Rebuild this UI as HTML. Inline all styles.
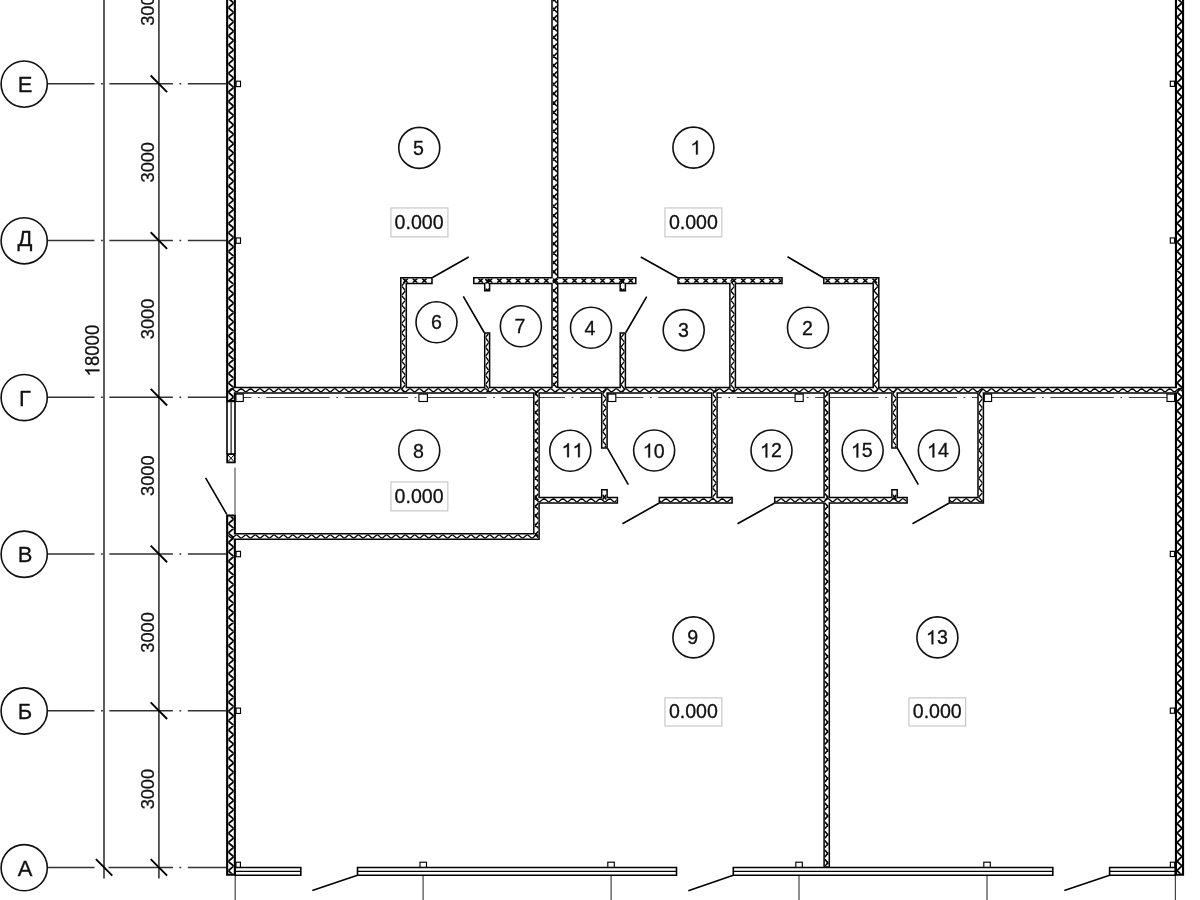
<!DOCTYPE html><html><head><meta charset="utf-8"><style>html,body{margin:0;padding:0;background:#fff;width:1200px;height:900px;overflow:hidden}svg{display:block;will-change:transform}</style></head><body>
<svg width="1200" height="900" viewBox="0 0 1200 900">
<rect x="0" y="0" width="1200" height="900" fill="#fff"/>
<path d="M47.5 83.80H94.2" stroke="#333" stroke-width="1.5"/>
<path d="M94.20 83.80H94.49M109.40 83.80H172.90M101.00 83.80H102.80M187.81 83.80H226.20M179.41 83.80H181.21" stroke="#333" stroke-width="1.50" fill="none"/>
<path d="M47.5 240.52H94.2" stroke="#333" stroke-width="1.5"/>
<path d="M94.20 240.52H94.49M109.40 240.52H172.90M101.00 240.52H102.80M187.81 240.52H226.20M179.41 240.52H181.21" stroke="#333" stroke-width="1.50" fill="none"/>
<path d="M47.5 397.24H94.2" stroke="#333" stroke-width="1.5"/>
<path d="M94.20 397.24H94.49M109.40 397.24H172.90M101.00 397.24H102.80M187.81 397.24H226.20M179.41 397.24H181.21" stroke="#333" stroke-width="1.50" fill="none"/>
<path d="M47.5 553.96H94.2" stroke="#333" stroke-width="1.5"/>
<path d="M94.20 553.96H94.49M109.40 553.96H172.90M101.00 553.96H102.80M187.81 553.96H226.20M179.41 553.96H181.21" stroke="#333" stroke-width="1.50" fill="none"/>
<path d="M47.5 710.68H94.2" stroke="#333" stroke-width="1.5"/>
<path d="M94.20 710.68H94.49M109.40 710.68H172.90M101.00 710.68H102.80M187.81 710.68H226.20M179.41 710.68H181.21" stroke="#333" stroke-width="1.50" fill="none"/>
<path d="M47.5 867.40H94.5M108.5 867.40H173" stroke="#333" stroke-width="1.5"/>
<path d="M187.81 867.40H226.20M179.41 867.40H181.21" stroke="#333" stroke-width="1.50" fill="none"/>
<path d="M235.80 397.50H251.31M266.22 397.50H329.72M257.82 397.50H259.62M344.63 397.50H408.13M336.23 397.50H338.03M423.04 397.50H486.54M414.64 397.50H416.44M501.45 397.50H564.95M493.05 397.50H494.85M579.86 397.50H643.36M571.46 397.50H573.26M658.27 397.50H721.77M649.87 397.50H651.67M736.68 397.50H800.18M728.28 397.50H730.08M815.09 397.50H878.59M806.69 397.50H808.49M893.50 397.50H957.00M885.10 397.50H886.90M971.91 397.50H1035.41M963.51 397.50H965.31M1050.32 397.50H1113.82M1041.92 397.50H1043.72M1128.73 397.50H1175.00M1120.33 397.50H1122.13" stroke="#444" stroke-width="1.00" fill="none"/>
<path d="M104.0 -2V878.4M158.9 -2V878.4" stroke="#404040" stroke-width="1.7" fill="none"/>
<path d="M150.70 75.50L167.10 92.10M150.70 232.22L167.10 248.82M150.70 388.94L167.10 405.54M150.70 545.66L167.10 562.26M150.70 702.38L167.10 718.98M150.70 859.10L167.10 875.70M95.90 859.10L112.30 875.70" stroke="#000" stroke-width="1.9" fill="none"/>
<g transform="translate(153.90 5.54) rotate(-90)"><text x="-20.24" y="0" transform="scale(1.0000 1.0600)" font-family='"Liberation Sans", sans-serif' font-size="18.20" fill="#111" stroke="#111" stroke-width="0.28">3</text><text x="-10.12" y="0" transform="scale(1.0000 1.0600)" font-family='"Liberation Sans", sans-serif' font-size="18.20" fill="#111" stroke="#111" stroke-width="0.28">0</text><text x="0.00" y="0" transform="scale(1.0000 1.0600)" font-family='"Liberation Sans", sans-serif' font-size="18.20" fill="#111" stroke="#111" stroke-width="0.28">0</text><text x="10.12" y="0" transform="scale(1.0000 1.0600)" font-family='"Liberation Sans", sans-serif' font-size="18.20" fill="#111" stroke="#111" stroke-width="0.28">0</text></g>
<g transform="translate(153.90 162.26) rotate(-90)"><text x="-20.24" y="0" transform="scale(1.0000 1.0600)" font-family='"Liberation Sans", sans-serif' font-size="18.20" fill="#111" stroke="#111" stroke-width="0.28">3</text><text x="-10.12" y="0" transform="scale(1.0000 1.0600)" font-family='"Liberation Sans", sans-serif' font-size="18.20" fill="#111" stroke="#111" stroke-width="0.28">0</text><text x="0.00" y="0" transform="scale(1.0000 1.0600)" font-family='"Liberation Sans", sans-serif' font-size="18.20" fill="#111" stroke="#111" stroke-width="0.28">0</text><text x="10.12" y="0" transform="scale(1.0000 1.0600)" font-family='"Liberation Sans", sans-serif' font-size="18.20" fill="#111" stroke="#111" stroke-width="0.28">0</text></g>
<g transform="translate(153.90 318.98) rotate(-90)"><text x="-20.24" y="0" transform="scale(1.0000 1.0600)" font-family='"Liberation Sans", sans-serif' font-size="18.20" fill="#111" stroke="#111" stroke-width="0.28">3</text><text x="-10.12" y="0" transform="scale(1.0000 1.0600)" font-family='"Liberation Sans", sans-serif' font-size="18.20" fill="#111" stroke="#111" stroke-width="0.28">0</text><text x="0.00" y="0" transform="scale(1.0000 1.0600)" font-family='"Liberation Sans", sans-serif' font-size="18.20" fill="#111" stroke="#111" stroke-width="0.28">0</text><text x="10.12" y="0" transform="scale(1.0000 1.0600)" font-family='"Liberation Sans", sans-serif' font-size="18.20" fill="#111" stroke="#111" stroke-width="0.28">0</text></g>
<g transform="translate(153.90 475.70) rotate(-90)"><text x="-20.24" y="0" transform="scale(1.0000 1.0600)" font-family='"Liberation Sans", sans-serif' font-size="18.20" fill="#111" stroke="#111" stroke-width="0.28">3</text><text x="-10.12" y="0" transform="scale(1.0000 1.0600)" font-family='"Liberation Sans", sans-serif' font-size="18.20" fill="#111" stroke="#111" stroke-width="0.28">0</text><text x="0.00" y="0" transform="scale(1.0000 1.0600)" font-family='"Liberation Sans", sans-serif' font-size="18.20" fill="#111" stroke="#111" stroke-width="0.28">0</text><text x="10.12" y="0" transform="scale(1.0000 1.0600)" font-family='"Liberation Sans", sans-serif' font-size="18.20" fill="#111" stroke="#111" stroke-width="0.28">0</text></g>
<g transform="translate(153.90 632.42) rotate(-90)"><text x="-20.24" y="0" transform="scale(1.0000 1.0600)" font-family='"Liberation Sans", sans-serif' font-size="18.20" fill="#111" stroke="#111" stroke-width="0.28">3</text><text x="-10.12" y="0" transform="scale(1.0000 1.0600)" font-family='"Liberation Sans", sans-serif' font-size="18.20" fill="#111" stroke="#111" stroke-width="0.28">0</text><text x="0.00" y="0" transform="scale(1.0000 1.0600)" font-family='"Liberation Sans", sans-serif' font-size="18.20" fill="#111" stroke="#111" stroke-width="0.28">0</text><text x="10.12" y="0" transform="scale(1.0000 1.0600)" font-family='"Liberation Sans", sans-serif' font-size="18.20" fill="#111" stroke="#111" stroke-width="0.28">0</text></g>
<g transform="translate(153.90 789.14) rotate(-90)"><text x="-20.24" y="0" transform="scale(1.0000 1.0600)" font-family='"Liberation Sans", sans-serif' font-size="18.20" fill="#111" stroke="#111" stroke-width="0.28">3</text><text x="-10.12" y="0" transform="scale(1.0000 1.0600)" font-family='"Liberation Sans", sans-serif' font-size="18.20" fill="#111" stroke="#111" stroke-width="0.28">0</text><text x="0.00" y="0" transform="scale(1.0000 1.0600)" font-family='"Liberation Sans", sans-serif' font-size="18.20" fill="#111" stroke="#111" stroke-width="0.28">0</text><text x="10.12" y="0" transform="scale(1.0000 1.0600)" font-family='"Liberation Sans", sans-serif' font-size="18.20" fill="#111" stroke="#111" stroke-width="0.28">0</text></g>
<g transform="translate(99.40 350.60) rotate(-90)"><text x="-15.51" y="0" transform="scale(1.0000 1.0800)" font-family='"Liberation Sans", sans-serif' font-size="18.60" fill="#111" stroke="#111" stroke-width="0.28">8</text><text x="-5.17" y="0" transform="scale(1.0000 1.0800)" font-family='"Liberation Sans", sans-serif' font-size="18.60" fill="#111" stroke="#111" stroke-width="0.28">0</text><text x="5.17" y="0" transform="scale(1.0000 1.0800)" font-family='"Liberation Sans", sans-serif' font-size="18.60" fill="#111" stroke="#111" stroke-width="0.28">0</text><text x="15.51" y="0" transform="scale(1.0000 1.0800)" font-family='"Liberation Sans", sans-serif' font-size="18.60" fill="#111" stroke="#111" stroke-width="0.28">0</text><path transform="translate(-25.85 0) scale(0.00908 -0.00981)" d="M763 1466H643Q590 1340 430 1220Q330 1150 223 1110V940Q360 990 583 1130V0H763Z" fill="#111" stroke="#111" stroke-width="0.30" vector-effect="non-scaling-stroke"/></g>
<circle cx="24.2" cy="84.10" r="23.1" fill="#fff" stroke="#111" stroke-width="1.6"/>
<text x="25.0" y="92.10" font-family='"Liberation Sans", sans-serif' font-size="22" text-anchor="middle" fill="#111" stroke="#111" stroke-width="0.3">Е</text>
<circle cx="24.2" cy="240.82" r="23.1" fill="#fff" stroke="#111" stroke-width="1.6"/>
<text x="25.0" y="246.42" font-family='"Liberation Sans", sans-serif' font-size="22" text-anchor="middle" fill="#111" stroke="#111" stroke-width="0.3">Д</text>
<circle cx="24.2" cy="397.54" r="23.1" fill="#fff" stroke="#111" stroke-width="1.6"/>
<text x="25.0" y="405.54" font-family='"Liberation Sans", sans-serif' font-size="22" text-anchor="middle" fill="#111" stroke="#111" stroke-width="0.3">Г</text>
<circle cx="24.2" cy="554.26" r="23.1" fill="#fff" stroke="#111" stroke-width="1.6"/>
<text x="25.0" y="562.26" font-family='"Liberation Sans", sans-serif' font-size="22" text-anchor="middle" fill="#111" stroke="#111" stroke-width="0.3">В</text>
<circle cx="24.2" cy="710.98" r="23.1" fill="#fff" stroke="#111" stroke-width="1.6"/>
<text x="25.0" y="718.98" font-family='"Liberation Sans", sans-serif' font-size="22" text-anchor="middle" fill="#111" stroke="#111" stroke-width="0.3">Б</text>
<circle cx="24.2" cy="867.70" r="23.1" fill="#fff" stroke="#111" stroke-width="1.6"/>
<text x="25.0" y="875.70" font-family='"Liberation Sans", sans-serif' font-size="22" text-anchor="middle" fill="#111" stroke="#111" stroke-width="0.3">А</text>
<path d="M226.10 -10.00H235.90V402.20H226.10ZM226.10 514.40H235.90V875.80H226.10ZM1174.90 -10.00H1184.10V875.80H1174.90ZM551.25 -10.25H558.45V393.55H551.25ZM232.30 386.85H1178.50V393.85H232.30ZM400.05 277.05H432.75V284.35H400.05ZM400.05 277.05H407.05V393.55H400.05ZM473.05 277.05H636.55V284.35H473.05ZM483.95 277.05H490.35V291.55H483.95ZM483.95 332.25H490.35V393.55H483.95ZM619.45 277.05H626.15V291.55H619.45ZM619.45 332.25H626.15V393.55H619.45ZM677.25 277.05H782.75V284.35H677.25ZM729.15 277.05H736.15V393.55H729.15ZM823.05 277.05H879.55V284.35H823.05ZM872.45 277.05H879.55V393.55H872.45ZM533.05 387.05H539.85V539.95H533.05ZM232.30 533.05H539.85V539.95H232.30ZM600.95 387.05H607.85V448.65H600.95ZM533.05 496.85H618.15V503.65H533.05ZM600.95 488.95H607.85V503.65H600.95ZM658.55 496.85H732.85V503.65H658.55ZM710.95 387.05H717.85V503.65H710.95ZM773.95 496.85H907.85V503.65H773.95ZM823.35 387.05H830.05V867.75H823.35ZM891.15 387.05H897.95V448.65H891.15ZM891.15 488.95H897.95V503.65H891.15ZM948.55 496.85H984.15V503.65H948.55ZM977.25 387.05H984.15V503.65H977.25Z" fill="#000"/>
<path d="M228.20 -7.90H233.80V400.10H228.20ZM228.20 516.50H233.80V873.70H228.20ZM1177.00 -7.90H1182.00V873.70H1177.00ZM552.75 -8.75H556.95V392.05H552.75ZM233.80 388.35H1177.00V392.35H233.80ZM401.55 278.55H431.25V282.85H401.55ZM401.55 278.55H405.55V392.05H401.55ZM474.55 278.55H635.05V282.85H474.55ZM485.45 278.55H488.85V290.05H485.45ZM485.45 333.75H488.85V392.05H485.45ZM620.95 278.55H624.65V290.05H620.95ZM620.95 333.75H624.65V392.05H620.95ZM678.75 278.55H781.25V282.85H678.75ZM730.65 278.55H734.65V392.05H730.65ZM824.55 278.55H878.05V282.85H824.55ZM873.95 278.55H878.05V392.05H873.95ZM534.55 388.55H538.35V538.45H534.55ZM233.80 534.55H538.35V538.45H233.80ZM602.45 388.55H606.35V447.15H602.45ZM534.55 498.35H616.65V502.15H534.55ZM602.45 490.45H606.35V502.15H602.45ZM660.05 498.35H731.35V502.15H660.05ZM712.45 388.55H716.35V502.15H712.45ZM775.45 498.35H906.35V502.15H775.45ZM824.85 388.55H828.55V866.25H824.85ZM892.65 388.55H896.45V447.15H892.65ZM892.65 490.45H896.45V502.15H892.65ZM950.05 498.35H982.65V502.15H950.05ZM978.75 388.55H982.65V502.15H978.75Z" fill="#fff"/>
<clipPath id="wi"><path d="M228.20 -7.90H233.80V400.10H228.20ZM228.20 516.50H233.80V873.70H228.20ZM1177.00 -7.90H1182.00V873.70H1177.00ZM552.75 -8.75H556.95V392.05H552.75ZM233.80 388.35H1177.00V392.35H233.80ZM401.55 278.55H431.25V282.85H401.55ZM401.55 278.55H405.55V392.05H401.55ZM474.55 278.55H635.05V282.85H474.55ZM485.45 278.55H488.85V290.05H485.45ZM485.45 333.75H488.85V392.05H485.45ZM620.95 278.55H624.65V290.05H620.95ZM620.95 333.75H624.65V392.05H620.95ZM678.75 278.55H781.25V282.85H678.75ZM730.65 278.55H734.65V392.05H730.65ZM824.55 278.55H878.05V282.85H824.55ZM873.95 278.55H878.05V392.05H873.95ZM534.55 388.55H538.35V538.45H534.55ZM233.80 534.55H538.35V538.45H233.80ZM602.45 388.55H606.35V447.15H602.45ZM534.55 498.35H616.65V502.15H534.55ZM602.45 490.45H606.35V502.15H602.45ZM660.05 498.35H731.35V502.15H660.05ZM712.45 388.55H716.35V502.15H712.45ZM775.45 498.35H906.35V502.15H775.45ZM824.85 388.55H828.55V866.25H824.85ZM892.65 388.55H896.45V447.15H892.65ZM892.65 490.45H896.45V502.15H892.65ZM950.05 498.35H982.65V502.15H950.05ZM978.75 388.55H982.65V502.15H978.75Z"/></clipPath>
<path d="M222.34 388.35L227.03 392.35M222.34 388.35L217.65 392.35M231.72 388.35L236.41 392.35M231.72 388.35L227.03 392.35M241.10 388.35L245.79 392.35M241.10 388.35L236.41 392.35M250.48 388.35L255.17 392.35M250.48 388.35L245.79 392.35M259.86 388.35L264.55 392.35M259.86 388.35L255.17 392.35M269.24 388.35L273.93 392.35M269.24 388.35L264.55 392.35M278.62 388.35L283.31 392.35M278.62 388.35L273.93 392.35M288.00 388.35L292.69 392.35M288.00 388.35L283.31 392.35M297.38 388.35L302.07 392.35M297.38 388.35L292.69 392.35M306.76 388.35L311.45 392.35M306.76 388.35L302.07 392.35M316.14 388.35L320.83 392.35M316.14 388.35L311.45 392.35M325.52 388.35L330.21 392.35M325.52 388.35L320.83 392.35M334.90 388.35L339.59 392.35M334.90 388.35L330.21 392.35M344.28 388.35L348.97 392.35M344.28 388.35L339.59 392.35M353.66 388.35L358.35 392.35M353.66 388.35L348.97 392.35M363.04 388.35L367.73 392.35M363.04 388.35L358.35 392.35M372.42 388.35L377.11 392.35M372.42 388.35L367.73 392.35M381.80 388.35L386.49 392.35M381.80 388.35L377.11 392.35M391.18 388.35L395.87 392.35M391.18 388.35L386.49 392.35M400.56 388.35L405.25 392.35M400.56 388.35L395.87 392.35M409.94 388.35L414.63 392.35M409.94 388.35L405.25 392.35M419.32 388.35L424.01 392.35M419.32 388.35L414.63 392.35M428.70 388.35L433.39 392.35M428.70 388.35L424.01 392.35M438.08 388.35L442.77 392.35M438.08 388.35L433.39 392.35M447.46 388.35L452.15 392.35M447.46 388.35L442.77 392.35M456.84 388.35L461.53 392.35M456.84 388.35L452.15 392.35M466.22 388.35L470.91 392.35M466.22 388.35L461.53 392.35M475.60 388.35L480.29 392.35M475.60 388.35L470.91 392.35M484.98 388.35L489.67 392.35M484.98 388.35L480.29 392.35M494.36 388.35L499.05 392.35M494.36 388.35L489.67 392.35M503.74 388.35L508.43 392.35M503.74 388.35L499.05 392.35M513.12 388.35L517.81 392.35M513.12 388.35L508.43 392.35M522.50 388.35L527.19 392.35M522.50 388.35L517.81 392.35M531.88 388.35L536.57 392.35M531.88 388.35L527.19 392.35M541.26 388.35L545.95 392.35M541.26 388.35L536.57 392.35M550.64 388.35L555.33 392.35M550.64 388.35L545.95 392.35M560.02 388.35L564.71 392.35M560.02 388.35L555.33 392.35M569.40 388.35L574.09 392.35M569.40 388.35L564.71 392.35M578.78 388.35L583.47 392.35M578.78 388.35L574.09 392.35M588.16 388.35L592.85 392.35M588.16 388.35L583.47 392.35M597.54 388.35L602.23 392.35M597.54 388.35L592.85 392.35M606.92 388.35L611.61 392.35M606.92 388.35L602.23 392.35M616.30 388.35L620.99 392.35M616.30 388.35L611.61 392.35M625.68 388.35L630.37 392.35M625.68 388.35L620.99 392.35M635.06 388.35L639.75 392.35M635.06 388.35L630.37 392.35M644.44 388.35L649.13 392.35M644.44 388.35L639.75 392.35M653.82 388.35L658.51 392.35M653.82 388.35L649.13 392.35M663.20 388.35L667.89 392.35M663.20 388.35L658.51 392.35M672.58 388.35L677.27 392.35M672.58 388.35L667.89 392.35M681.96 388.35L686.65 392.35M681.96 388.35L677.27 392.35M691.34 388.35L696.03 392.35M691.34 388.35L686.65 392.35M700.72 388.35L705.41 392.35M700.72 388.35L696.03 392.35M710.10 388.35L714.79 392.35M710.10 388.35L705.41 392.35M719.48 388.35L724.17 392.35M719.48 388.35L714.79 392.35M728.86 388.35L733.55 392.35M728.86 388.35L724.17 392.35M738.24 388.35L742.93 392.35M738.24 388.35L733.55 392.35M747.62 388.35L752.31 392.35M747.62 388.35L742.93 392.35M757.00 388.35L761.69 392.35M757.00 388.35L752.31 392.35M766.38 388.35L771.07 392.35M766.38 388.35L761.69 392.35M775.76 388.35L780.45 392.35M775.76 388.35L771.07 392.35M785.14 388.35L789.83 392.35M785.14 388.35L780.45 392.35M794.52 388.35L799.21 392.35M794.52 388.35L789.83 392.35M803.90 388.35L808.59 392.35M803.90 388.35L799.21 392.35M813.28 388.35L817.97 392.35M813.28 388.35L808.59 392.35M822.66 388.35L827.35 392.35M822.66 388.35L817.97 392.35M832.04 388.35L836.73 392.35M832.04 388.35L827.35 392.35M841.42 388.35L846.11 392.35M841.42 388.35L836.73 392.35M850.80 388.35L855.49 392.35M850.80 388.35L846.11 392.35M860.18 388.35L864.87 392.35M860.18 388.35L855.49 392.35M869.56 388.35L874.25 392.35M869.56 388.35L864.87 392.35M878.94 388.35L883.63 392.35M878.94 388.35L874.25 392.35M888.32 388.35L893.01 392.35M888.32 388.35L883.63 392.35M897.70 388.35L902.39 392.35M897.70 388.35L893.01 392.35M907.08 388.35L911.77 392.35M907.08 388.35L902.39 392.35M916.46 388.35L921.15 392.35M916.46 388.35L911.77 392.35M925.84 388.35L930.53 392.35M925.84 388.35L921.15 392.35M935.22 388.35L939.91 392.35M935.22 388.35L930.53 392.35M944.60 388.35L949.29 392.35M944.60 388.35L939.91 392.35M953.98 388.35L958.67 392.35M953.98 388.35L949.29 392.35M963.36 388.35L968.05 392.35M963.36 388.35L958.67 392.35M972.74 388.35L977.43 392.35M972.74 388.35L968.05 392.35M982.12 388.35L986.81 392.35M982.12 388.35L977.43 392.35M991.50 388.35L996.19 392.35M991.50 388.35L986.81 392.35M1000.88 388.35L1005.57 392.35M1000.88 388.35L996.19 392.35M1010.26 388.35L1014.95 392.35M1010.26 388.35L1005.57 392.35M1019.64 388.35L1024.33 392.35M1019.64 388.35L1014.95 392.35M1029.02 388.35L1033.71 392.35M1029.02 388.35L1024.33 392.35M1038.40 388.35L1043.09 392.35M1038.40 388.35L1033.71 392.35M1047.78 388.35L1052.47 392.35M1047.78 388.35L1043.09 392.35M1057.16 388.35L1061.85 392.35M1057.16 388.35L1052.47 392.35M1066.54 388.35L1071.23 392.35M1066.54 388.35L1061.85 392.35M1075.92 388.35L1080.61 392.35M1075.92 388.35L1071.23 392.35M1085.30 388.35L1089.99 392.35M1085.30 388.35L1080.61 392.35M1094.68 388.35L1099.37 392.35M1094.68 388.35L1089.99 392.35M1104.06 388.35L1108.75 392.35M1104.06 388.35L1099.37 392.35M1113.44 388.35L1118.13 392.35M1113.44 388.35L1108.75 392.35M1122.82 388.35L1127.51 392.35M1122.82 388.35L1118.13 392.35M1132.20 388.35L1136.89 392.35M1132.20 388.35L1127.51 392.35M1141.58 388.35L1146.27 392.35M1141.58 388.35L1136.89 392.35M1150.96 388.35L1155.65 392.35M1150.96 388.35L1146.27 392.35M1160.34 388.35L1165.03 392.35M1160.34 388.35L1155.65 392.35M1169.72 388.35L1174.41 392.35M1169.72 388.35L1165.03 392.35M1179.10 388.35L1183.79 392.35M1179.10 388.35L1174.41 392.35M401.55 267.30L405.55 271.99M401.55 267.30L405.55 262.61M401.55 276.68L405.55 281.37M401.55 276.68L405.55 271.99M401.55 286.06L405.55 290.75M401.55 286.06L405.55 281.37M401.55 295.44L405.55 300.13M401.55 295.44L405.55 290.75M401.55 304.82L405.55 309.51M401.55 304.82L405.55 300.13M401.55 314.20L405.55 318.89M401.55 314.20L405.55 309.51M401.55 323.58L405.55 328.27M401.55 323.58L405.55 318.89M401.55 332.96L405.55 337.65M401.55 332.96L405.55 328.27M401.55 342.34L405.55 347.03M401.55 342.34L405.55 337.65M401.55 351.72L405.55 356.41M401.55 351.72L405.55 347.03M401.55 361.10L405.55 365.79M401.55 361.10L405.55 356.41M401.55 370.48L405.55 375.17M401.55 370.48L405.55 365.79M401.55 379.86L405.55 384.55M401.55 379.86L405.55 375.17M401.55 389.24L405.55 393.93M401.55 389.24L405.55 384.55M401.55 398.62L405.55 403.31M401.55 398.62L405.55 393.93M485.45 318.92L488.85 323.61M485.45 318.92L488.85 314.23M485.45 328.30L488.85 332.99M485.45 328.30L488.85 323.61M485.45 337.68L488.85 342.37M485.45 337.68L488.85 332.99M485.45 347.06L488.85 351.75M485.45 347.06L488.85 342.37M485.45 356.44L488.85 361.13M485.45 356.44L488.85 351.75M485.45 365.82L488.85 370.51M485.45 365.82L488.85 361.13M485.45 375.20L488.85 379.89M485.45 375.20L488.85 370.51M485.45 384.58L488.85 389.27M485.45 384.58L488.85 379.89M485.45 393.96L488.85 398.65M485.45 393.96L488.85 389.27M620.95 318.92L624.65 323.61M620.95 318.92L624.65 314.23M620.95 328.30L624.65 332.99M620.95 328.30L624.65 323.61M620.95 337.68L624.65 342.37M620.95 337.68L624.65 332.99M620.95 347.06L624.65 351.75M620.95 347.06L624.65 342.37M620.95 356.44L624.65 361.13M620.95 356.44L624.65 351.75M620.95 365.82L624.65 370.51M620.95 365.82L624.65 361.13M620.95 375.20L624.65 379.89M620.95 375.20L624.65 370.51M620.95 384.58L624.65 389.27M620.95 384.58L624.65 379.89M620.95 393.96L624.65 398.65M620.95 393.96L624.65 389.27M730.65 262.64L734.65 267.33M730.65 262.64L734.65 257.95M730.65 272.02L734.65 276.71M730.65 272.02L734.65 267.33M730.65 281.40L734.65 286.09M730.65 281.40L734.65 276.71M730.65 290.78L734.65 295.47M730.65 290.78L734.65 286.09M730.65 300.16L734.65 304.85M730.65 300.16L734.65 295.47M730.65 309.54L734.65 314.23M730.65 309.54L734.65 304.85M730.65 318.92L734.65 323.61M730.65 318.92L734.65 314.23M730.65 328.30L734.65 332.99M730.65 328.30L734.65 323.61M730.65 337.68L734.65 342.37M730.65 337.68L734.65 332.99M730.65 347.06L734.65 351.75M730.65 347.06L734.65 342.37M730.65 356.44L734.65 361.13M730.65 356.44L734.65 351.75M730.65 365.82L734.65 370.51M730.65 365.82L734.65 361.13M730.65 375.20L734.65 379.89M730.65 375.20L734.65 370.51M730.65 384.58L734.65 389.27M730.65 384.58L734.65 379.89M730.65 393.96L734.65 398.65M730.65 393.96L734.65 389.27M873.95 262.64L878.05 267.33M873.95 262.64L878.05 257.95M873.95 272.02L878.05 276.71M873.95 272.02L878.05 267.33M873.95 281.40L878.05 286.09M873.95 281.40L878.05 276.71M873.95 290.78L878.05 295.47M873.95 290.78L878.05 286.09M873.95 300.16L878.05 304.85M873.95 300.16L878.05 295.47M873.95 309.54L878.05 314.23M873.95 309.54L878.05 304.85M873.95 318.92L878.05 323.61M873.95 318.92L878.05 314.23M873.95 328.30L878.05 332.99M873.95 328.30L878.05 323.61M873.95 337.68L878.05 342.37M873.95 337.68L878.05 332.99M873.95 347.06L878.05 351.75M873.95 347.06L878.05 342.37M873.95 356.44L878.05 361.13M873.95 356.44L878.05 351.75M873.95 365.82L878.05 370.51M873.95 365.82L878.05 361.13M873.95 375.20L878.05 379.89M873.95 375.20L878.05 370.51M873.95 384.58L878.05 389.27M873.95 384.58L878.05 379.89M873.95 393.96L878.05 398.65M873.95 393.96L878.05 389.27M217.74 534.55L222.43 538.45M217.74 534.55L213.05 538.45M227.12 534.55L231.81 538.45M227.12 534.55L222.43 538.45M236.50 534.55L241.19 538.45M236.50 534.55L231.81 538.45M245.88 534.55L250.57 538.45M245.88 534.55L241.19 538.45M255.26 534.55L259.95 538.45M255.26 534.55L250.57 538.45M264.64 534.55L269.33 538.45M264.64 534.55L259.95 538.45M274.02 534.55L278.71 538.45M274.02 534.55L269.33 538.45M283.40 534.55L288.09 538.45M283.40 534.55L278.71 538.45M292.78 534.55L297.47 538.45M292.78 534.55L288.09 538.45M302.16 534.55L306.85 538.45M302.16 534.55L297.47 538.45M311.54 534.55L316.23 538.45M311.54 534.55L306.85 538.45M320.92 534.55L325.61 538.45M320.92 534.55L316.23 538.45M330.30 534.55L334.99 538.45M330.30 534.55L325.61 538.45M339.68 534.55L344.37 538.45M339.68 534.55L334.99 538.45M349.06 534.55L353.75 538.45M349.06 534.55L344.37 538.45M358.44 534.55L363.13 538.45M358.44 534.55L353.75 538.45M367.82 534.55L372.51 538.45M367.82 534.55L363.13 538.45M377.20 534.55L381.89 538.45M377.20 534.55L372.51 538.45M386.58 534.55L391.27 538.45M386.58 534.55L381.89 538.45M395.96 534.55L400.65 538.45M395.96 534.55L391.27 538.45M405.34 534.55L410.03 538.45M405.34 534.55L400.65 538.45M414.72 534.55L419.41 538.45M414.72 534.55L410.03 538.45M424.10 534.55L428.79 538.45M424.10 534.55L419.41 538.45M433.48 534.55L438.17 538.45M433.48 534.55L428.79 538.45M442.86 534.55L447.55 538.45M442.86 534.55L438.17 538.45M452.24 534.55L456.93 538.45M452.24 534.55L447.55 538.45M461.62 534.55L466.31 538.45M461.62 534.55L456.93 538.45M471.00 534.55L475.69 538.45M471.00 534.55L466.31 538.45M480.38 534.55L485.07 538.45M480.38 534.55L475.69 538.45M489.76 534.55L494.45 538.45M489.76 534.55L485.07 538.45M499.14 534.55L503.83 538.45M499.14 534.55L494.45 538.45M508.52 534.55L513.21 538.45M508.52 534.55L503.83 538.45M517.90 534.55L522.59 538.45M517.90 534.55L513.21 538.45M527.28 534.55L531.97 538.45M527.28 534.55L522.59 538.45M536.66 534.55L541.35 538.45M536.66 534.55L531.97 538.45M546.04 534.55L550.73 538.45M546.04 534.55L541.35 538.45M602.45 375.20L606.35 379.89M602.45 375.20L606.35 370.51M602.45 384.58L606.35 389.27M602.45 384.58L606.35 379.89M602.45 393.96L606.35 398.65M602.45 393.96L606.35 389.27M602.45 403.34L606.35 408.03M602.45 403.34L606.35 398.65M602.45 412.72L606.35 417.41M602.45 412.72L606.35 408.03M602.45 422.10L606.35 426.79M602.45 422.10L606.35 417.41M602.45 431.48L606.35 436.17M602.45 431.48L606.35 426.79M602.45 440.86L606.35 445.55M602.45 440.86L606.35 436.17M602.45 450.24L606.35 454.93M602.45 450.24L606.35 445.55M515.90 498.35L520.59 502.15M515.90 498.35L511.21 502.15M525.28 498.35L529.97 502.15M525.28 498.35L520.59 502.15M534.66 498.35L539.35 502.15M534.66 498.35L529.97 502.15M544.04 498.35L548.73 502.15M544.04 498.35L539.35 502.15M553.42 498.35L558.11 502.15M553.42 498.35L548.73 502.15M562.80 498.35L567.49 502.15M562.80 498.35L558.11 502.15M572.18 498.35L576.87 502.15M572.18 498.35L567.49 502.15M581.56 498.35L586.25 502.15M581.56 498.35L576.87 502.15M590.94 498.35L595.63 502.15M590.94 498.35L586.25 502.15M600.32 498.35L605.01 502.15M600.32 498.35L595.63 502.15M609.70 498.35L614.39 502.15M609.70 498.35L605.01 502.15M619.08 498.35L623.77 502.15M619.08 498.35L614.39 502.15M647.22 498.35L651.91 502.15M647.22 498.35L642.53 502.15M656.60 498.35L661.29 502.15M656.60 498.35L651.91 502.15M665.98 498.35L670.67 502.15M665.98 498.35L661.29 502.15M675.36 498.35L680.05 502.15M675.36 498.35L670.67 502.15M684.74 498.35L689.43 502.15M684.74 498.35L680.05 502.15M694.12 498.35L698.81 502.15M694.12 498.35L689.43 502.15M703.50 498.35L708.19 502.15M703.50 498.35L698.81 502.15M712.88 498.35L717.57 502.15M712.88 498.35L708.19 502.15M722.26 498.35L726.95 502.15M722.26 498.35L717.57 502.15M731.64 498.35L736.33 502.15M731.64 498.35L726.95 502.15M712.45 375.20L716.35 379.89M712.45 375.20L716.35 370.51M712.45 384.58L716.35 389.27M712.45 384.58L716.35 379.89M712.45 393.96L716.35 398.65M712.45 393.96L716.35 389.27M712.45 403.34L716.35 408.03M712.45 403.34L716.35 398.65M712.45 412.72L716.35 417.41M712.45 412.72L716.35 408.03M712.45 422.10L716.35 426.79M712.45 422.10L716.35 417.41M712.45 431.48L716.35 436.17M712.45 431.48L716.35 426.79M712.45 440.86L716.35 445.55M712.45 440.86L716.35 436.17M712.45 450.24L716.35 454.93M712.45 450.24L716.35 445.55M712.45 459.62L716.35 464.31M712.45 459.62L716.35 454.93M712.45 469.00L716.35 473.69M712.45 469.00L716.35 464.31M712.45 478.38L716.35 483.07M712.45 478.38L716.35 473.69M712.45 487.76L716.35 492.45M712.45 487.76L716.35 483.07M712.45 497.14L716.35 501.83M712.45 497.14L716.35 492.45M712.45 506.52L716.35 511.21M712.45 506.52L716.35 501.83M762.28 498.35L766.97 502.15M762.28 498.35L757.59 502.15M771.66 498.35L776.35 502.15M771.66 498.35L766.97 502.15M781.04 498.35L785.73 502.15M781.04 498.35L776.35 502.15M790.42 498.35L795.11 502.15M790.42 498.35L785.73 502.15M799.80 498.35L804.49 502.15M799.80 498.35L795.11 502.15M809.18 498.35L813.87 502.15M809.18 498.35L804.49 502.15M818.56 498.35L823.25 502.15M818.56 498.35L813.87 502.15M827.94 498.35L832.63 502.15M827.94 498.35L823.25 502.15M837.32 498.35L842.01 502.15M837.32 498.35L832.63 502.15M846.70 498.35L851.39 502.15M846.70 498.35L842.01 502.15M856.08 498.35L860.77 502.15M856.08 498.35L851.39 502.15M865.46 498.35L870.15 502.15M865.46 498.35L860.77 502.15M874.84 498.35L879.53 502.15M874.84 498.35L870.15 502.15M884.22 498.35L888.91 502.15M884.22 498.35L879.53 502.15M893.60 498.35L898.29 502.15M893.60 498.35L888.91 502.15M902.98 498.35L907.67 502.15M902.98 498.35L898.29 502.15M912.36 498.35L917.05 502.15M912.36 498.35L907.67 502.15M892.65 375.20L896.45 379.89M892.65 375.20L896.45 370.51M892.65 384.58L896.45 389.27M892.65 384.58L896.45 379.89M892.65 393.96L896.45 398.65M892.65 393.96L896.45 389.27M892.65 403.34L896.45 408.03M892.65 403.34L896.45 398.65M892.65 412.72L896.45 417.41M892.65 412.72L896.45 408.03M892.65 422.10L896.45 426.79M892.65 422.10L896.45 417.41M892.65 431.48L896.45 436.17M892.65 431.48L896.45 426.79M892.65 440.86L896.45 445.55M892.65 440.86L896.45 436.17M892.65 450.24L896.45 454.93M892.65 450.24L896.45 445.55M938.00 498.35L942.69 502.15M938.00 498.35L933.31 502.15M947.38 498.35L952.07 502.15M947.38 498.35L942.69 502.15M956.76 498.35L961.45 502.15M956.76 498.35L952.07 502.15M966.14 498.35L970.83 502.15M966.14 498.35L961.45 502.15M975.52 498.35L980.21 502.15M975.52 498.35L970.83 502.15M984.90 498.35L989.59 502.15M984.90 498.35L980.21 502.15M978.75 375.20L982.65 379.89M978.75 375.20L982.65 370.51M978.75 384.58L982.65 389.27M978.75 384.58L982.65 379.89M978.75 393.96L982.65 398.65M978.75 393.96L982.65 389.27M978.75 403.34L982.65 408.03M978.75 403.34L982.65 398.65M978.75 412.72L982.65 417.41M978.75 412.72L982.65 408.03M978.75 422.10L982.65 426.79M978.75 422.10L982.65 417.41M978.75 431.48L982.65 436.17M978.75 431.48L982.65 426.79M978.75 440.86L982.65 445.55M978.75 440.86L982.65 436.17M978.75 450.24L982.65 454.93M978.75 450.24L982.65 445.55M978.75 459.62L982.65 464.31M978.75 459.62L982.65 454.93M978.75 469.00L982.65 473.69M978.75 469.00L982.65 464.31M978.75 478.38L982.65 483.07M978.75 478.38L982.65 473.69M978.75 487.76L982.65 492.45M978.75 487.76L982.65 483.07M978.75 497.14L982.65 501.83M978.75 497.14L982.65 492.45M978.75 506.52L982.65 511.21M978.75 506.52L982.65 501.83" stroke="#000" stroke-width="1.35" fill="none" clip-path="url(#wi)"/>
<path d="M228.20 -11.06L233.80 -6.37M228.20 -11.06L233.80 -15.75M228.20 -1.68L233.80 3.01M228.20 -1.68L233.80 -6.37M228.20 7.70L233.80 12.39M228.20 7.70L233.80 3.01M228.20 17.08L233.80 21.77M228.20 17.08L233.80 12.39M228.20 26.46L233.80 31.15M228.20 26.46L233.80 21.77M228.20 35.84L233.80 40.53M228.20 35.84L233.80 31.15M228.20 45.22L233.80 49.91M228.20 45.22L233.80 40.53M228.20 54.60L233.80 59.29M228.20 54.60L233.80 49.91M228.20 63.98L233.80 68.67M228.20 63.98L233.80 59.29M228.20 73.36L233.80 78.05M228.20 73.36L233.80 68.67M228.20 82.74L233.80 87.43M228.20 82.74L233.80 78.05M228.20 92.12L233.80 96.81M228.20 92.12L233.80 87.43M228.20 101.50L233.80 106.19M228.20 101.50L233.80 96.81M228.20 110.88L233.80 115.57M228.20 110.88L233.80 106.19M228.20 120.26L233.80 124.95M228.20 120.26L233.80 115.57M228.20 129.64L233.80 134.33M228.20 129.64L233.80 124.95M228.20 139.02L233.80 143.71M228.20 139.02L233.80 134.33M228.20 148.40L233.80 153.09M228.20 148.40L233.80 143.71M228.20 157.78L233.80 162.47M228.20 157.78L233.80 153.09M228.20 167.16L233.80 171.85M228.20 167.16L233.80 162.47M228.20 176.54L233.80 181.23M228.20 176.54L233.80 171.85M228.20 185.92L233.80 190.61M228.20 185.92L233.80 181.23M228.20 195.30L233.80 199.99M228.20 195.30L233.80 190.61M228.20 204.68L233.80 209.37M228.20 204.68L233.80 199.99M228.20 214.06L233.80 218.75M228.20 214.06L233.80 209.37M228.20 223.44L233.80 228.13M228.20 223.44L233.80 218.75M228.20 232.82L233.80 237.51M228.20 232.82L233.80 228.13M228.20 242.20L233.80 246.89M228.20 242.20L233.80 237.51M228.20 251.58L233.80 256.27M228.20 251.58L233.80 246.89M228.20 260.96L233.80 265.65M228.20 260.96L233.80 256.27M228.20 270.34L233.80 275.03M228.20 270.34L233.80 265.65M228.20 279.72L233.80 284.41M228.20 279.72L233.80 275.03M228.20 289.10L233.80 293.79M228.20 289.10L233.80 284.41M228.20 298.48L233.80 303.17M228.20 298.48L233.80 293.79M228.20 307.86L233.80 312.55M228.20 307.86L233.80 303.17M228.20 317.24L233.80 321.93M228.20 317.24L233.80 312.55M228.20 326.62L233.80 331.31M228.20 326.62L233.80 321.93M228.20 336.00L233.80 340.69M228.20 336.00L233.80 331.31M228.20 345.38L233.80 350.07M228.20 345.38L233.80 340.69M228.20 354.76L233.80 359.45M228.20 354.76L233.80 350.07M228.20 364.14L233.80 368.83M228.20 364.14L233.80 359.45M228.20 373.52L233.80 378.21M228.20 373.52L233.80 368.83M228.20 382.90L233.80 387.59M228.20 382.90L233.80 378.21M228.20 392.28L233.80 396.97M228.20 392.28L233.80 387.59M228.20 401.66L233.80 406.35M228.20 401.66L233.80 396.97M228.20 514.32L233.80 519.01M228.20 514.32L233.80 509.63M228.20 523.70L233.80 528.39M228.20 523.70L233.80 519.01M228.20 533.08L233.80 537.77M228.20 533.08L233.80 528.39M228.20 542.46L233.80 547.15M228.20 542.46L233.80 537.77M228.20 551.84L233.80 556.53M228.20 551.84L233.80 547.15M228.20 561.22L233.80 565.91M228.20 561.22L233.80 556.53M228.20 570.60L233.80 575.29M228.20 570.60L233.80 565.91M228.20 579.98L233.80 584.67M228.20 579.98L233.80 575.29M228.20 589.36L233.80 594.05M228.20 589.36L233.80 584.67M228.20 598.74L233.80 603.43M228.20 598.74L233.80 594.05M228.20 608.12L233.80 612.81M228.20 608.12L233.80 603.43M228.20 617.50L233.80 622.19M228.20 617.50L233.80 612.81M228.20 626.88L233.80 631.57M228.20 626.88L233.80 622.19M228.20 636.26L233.80 640.95M228.20 636.26L233.80 631.57M228.20 645.64L233.80 650.33M228.20 645.64L233.80 640.95M228.20 655.02L233.80 659.71M228.20 655.02L233.80 650.33M228.20 664.40L233.80 669.09M228.20 664.40L233.80 659.71M228.20 673.78L233.80 678.47M228.20 673.78L233.80 669.09M228.20 683.16L233.80 687.85M228.20 683.16L233.80 678.47M228.20 692.54L233.80 697.23M228.20 692.54L233.80 687.85M228.20 701.92L233.80 706.61M228.20 701.92L233.80 697.23M228.20 711.30L233.80 715.99M228.20 711.30L233.80 706.61M228.20 720.68L233.80 725.37M228.20 720.68L233.80 715.99M228.20 730.06L233.80 734.75M228.20 730.06L233.80 725.37M228.20 739.44L233.80 744.13M228.20 739.44L233.80 734.75M228.20 748.82L233.80 753.51M228.20 748.82L233.80 744.13M228.20 758.20L233.80 762.89M228.20 758.20L233.80 753.51M228.20 767.58L233.80 772.27M228.20 767.58L233.80 762.89M228.20 776.96L233.80 781.65M228.20 776.96L233.80 772.27M228.20 786.34L233.80 791.03M228.20 786.34L233.80 781.65M228.20 795.72L233.80 800.41M228.20 795.72L233.80 791.03M228.20 805.10L233.80 809.79M228.20 805.10L233.80 800.41M228.20 814.48L233.80 819.17M228.20 814.48L233.80 809.79M228.20 823.86L233.80 828.55M228.20 823.86L233.80 819.17M228.20 833.24L233.80 837.93M228.20 833.24L233.80 828.55M228.20 842.62L233.80 847.31M228.20 842.62L233.80 837.93M228.20 852.00L233.80 856.69M228.20 852.00L233.80 847.31M228.20 861.38L233.80 866.07M228.20 861.38L233.80 856.69M228.20 870.76L233.80 875.45M228.20 870.76L233.80 866.07M228.20 880.14L233.80 884.83M228.20 880.14L233.80 875.45M1177.00 -11.16L1182.00 -6.47M1177.00 -11.16L1182.00 -15.85M1177.00 -1.78L1182.00 2.91M1177.00 -1.78L1182.00 -6.47M1177.00 7.60L1182.00 12.29M1177.00 7.60L1182.00 2.91M1177.00 16.98L1182.00 21.67M1177.00 16.98L1182.00 12.29M1177.00 26.36L1182.00 31.05M1177.00 26.36L1182.00 21.67M1177.00 35.74L1182.00 40.43M1177.00 35.74L1182.00 31.05M1177.00 45.12L1182.00 49.81M1177.00 45.12L1182.00 40.43M1177.00 54.50L1182.00 59.19M1177.00 54.50L1182.00 49.81M1177.00 63.88L1182.00 68.57M1177.00 63.88L1182.00 59.19M1177.00 73.26L1182.00 77.95M1177.00 73.26L1182.00 68.57M1177.00 82.64L1182.00 87.33M1177.00 82.64L1182.00 77.95M1177.00 92.02L1182.00 96.71M1177.00 92.02L1182.00 87.33M1177.00 101.40L1182.00 106.09M1177.00 101.40L1182.00 96.71M1177.00 110.78L1182.00 115.47M1177.00 110.78L1182.00 106.09M1177.00 120.16L1182.00 124.85M1177.00 120.16L1182.00 115.47M1177.00 129.54L1182.00 134.23M1177.00 129.54L1182.00 124.85M1177.00 138.92L1182.00 143.61M1177.00 138.92L1182.00 134.23M1177.00 148.30L1182.00 152.99M1177.00 148.30L1182.00 143.61M1177.00 157.68L1182.00 162.37M1177.00 157.68L1182.00 152.99M1177.00 167.06L1182.00 171.75M1177.00 167.06L1182.00 162.37M1177.00 176.44L1182.00 181.13M1177.00 176.44L1182.00 171.75M1177.00 185.82L1182.00 190.51M1177.00 185.82L1182.00 181.13M1177.00 195.20L1182.00 199.89M1177.00 195.20L1182.00 190.51M1177.00 204.58L1182.00 209.27M1177.00 204.58L1182.00 199.89M1177.00 213.96L1182.00 218.65M1177.00 213.96L1182.00 209.27M1177.00 223.34L1182.00 228.03M1177.00 223.34L1182.00 218.65M1177.00 232.72L1182.00 237.41M1177.00 232.72L1182.00 228.03M1177.00 242.10L1182.00 246.79M1177.00 242.10L1182.00 237.41M1177.00 251.48L1182.00 256.17M1177.00 251.48L1182.00 246.79M1177.00 260.86L1182.00 265.55M1177.00 260.86L1182.00 256.17M1177.00 270.24L1182.00 274.93M1177.00 270.24L1182.00 265.55M1177.00 279.62L1182.00 284.31M1177.00 279.62L1182.00 274.93M1177.00 289.00L1182.00 293.69M1177.00 289.00L1182.00 284.31M1177.00 298.38L1182.00 303.07M1177.00 298.38L1182.00 293.69M1177.00 307.76L1182.00 312.45M1177.00 307.76L1182.00 303.07M1177.00 317.14L1182.00 321.83M1177.00 317.14L1182.00 312.45M1177.00 326.52L1182.00 331.21M1177.00 326.52L1182.00 321.83M1177.00 335.90L1182.00 340.59M1177.00 335.90L1182.00 331.21M1177.00 345.28L1182.00 349.97M1177.00 345.28L1182.00 340.59M1177.00 354.66L1182.00 359.35M1177.00 354.66L1182.00 349.97M1177.00 364.04L1182.00 368.73M1177.00 364.04L1182.00 359.35M1177.00 373.42L1182.00 378.11M1177.00 373.42L1182.00 368.73M1177.00 382.80L1182.00 387.49M1177.00 382.80L1182.00 378.11M1177.00 392.18L1182.00 396.87M1177.00 392.18L1182.00 387.49M1177.00 401.56L1182.00 406.25M1177.00 401.56L1182.00 396.87M1177.00 410.94L1182.00 415.63M1177.00 410.94L1182.00 406.25M1177.00 420.32L1182.00 425.01M1177.00 420.32L1182.00 415.63M1177.00 429.70L1182.00 434.39M1177.00 429.70L1182.00 425.01M1177.00 439.08L1182.00 443.77M1177.00 439.08L1182.00 434.39M1177.00 448.46L1182.00 453.15M1177.00 448.46L1182.00 443.77M1177.00 457.84L1182.00 462.53M1177.00 457.84L1182.00 453.15M1177.00 467.22L1182.00 471.91M1177.00 467.22L1182.00 462.53M1177.00 476.60L1182.00 481.29M1177.00 476.60L1182.00 471.91M1177.00 485.98L1182.00 490.67M1177.00 485.98L1182.00 481.29M1177.00 495.36L1182.00 500.05M1177.00 495.36L1182.00 490.67M1177.00 504.74L1182.00 509.43M1177.00 504.74L1182.00 500.05M1177.00 514.12L1182.00 518.81M1177.00 514.12L1182.00 509.43M1177.00 523.50L1182.00 528.19M1177.00 523.50L1182.00 518.81M1177.00 532.88L1182.00 537.57M1177.00 532.88L1182.00 528.19M1177.00 542.26L1182.00 546.95M1177.00 542.26L1182.00 537.57M1177.00 551.64L1182.00 556.33M1177.00 551.64L1182.00 546.95M1177.00 561.02L1182.00 565.71M1177.00 561.02L1182.00 556.33M1177.00 570.40L1182.00 575.09M1177.00 570.40L1182.00 565.71M1177.00 579.78L1182.00 584.47M1177.00 579.78L1182.00 575.09M1177.00 589.16L1182.00 593.85M1177.00 589.16L1182.00 584.47M1177.00 598.54L1182.00 603.23M1177.00 598.54L1182.00 593.85M1177.00 607.92L1182.00 612.61M1177.00 607.92L1182.00 603.23M1177.00 617.30L1182.00 621.99M1177.00 617.30L1182.00 612.61M1177.00 626.68L1182.00 631.37M1177.00 626.68L1182.00 621.99M1177.00 636.06L1182.00 640.75M1177.00 636.06L1182.00 631.37M1177.00 645.44L1182.00 650.13M1177.00 645.44L1182.00 640.75M1177.00 654.82L1182.00 659.51M1177.00 654.82L1182.00 650.13M1177.00 664.20L1182.00 668.89M1177.00 664.20L1182.00 659.51M1177.00 673.58L1182.00 678.27M1177.00 673.58L1182.00 668.89M1177.00 682.96L1182.00 687.65M1177.00 682.96L1182.00 678.27M1177.00 692.34L1182.00 697.03M1177.00 692.34L1182.00 687.65M1177.00 701.72L1182.00 706.41M1177.00 701.72L1182.00 697.03M1177.00 711.10L1182.00 715.79M1177.00 711.10L1182.00 706.41M1177.00 720.48L1182.00 725.17M1177.00 720.48L1182.00 715.79M1177.00 729.86L1182.00 734.55M1177.00 729.86L1182.00 725.17M1177.00 739.24L1182.00 743.93M1177.00 739.24L1182.00 734.55M1177.00 748.62L1182.00 753.31M1177.00 748.62L1182.00 743.93M1177.00 758.00L1182.00 762.69M1177.00 758.00L1182.00 753.31M1177.00 767.38L1182.00 772.07M1177.00 767.38L1182.00 762.69M1177.00 776.76L1182.00 781.45M1177.00 776.76L1182.00 772.07M1177.00 786.14L1182.00 790.83M1177.00 786.14L1182.00 781.45M1177.00 795.52L1182.00 800.21M1177.00 795.52L1182.00 790.83M1177.00 804.90L1182.00 809.59M1177.00 804.90L1182.00 800.21M1177.00 814.28L1182.00 818.97M1177.00 814.28L1182.00 809.59M1177.00 823.66L1182.00 828.35M1177.00 823.66L1182.00 818.97M1177.00 833.04L1182.00 837.73M1177.00 833.04L1182.00 828.35M1177.00 842.42L1182.00 847.11M1177.00 842.42L1182.00 837.73M1177.00 851.80L1182.00 856.49M1177.00 851.80L1182.00 847.11M1177.00 861.18L1182.00 865.87M1177.00 861.18L1182.00 856.49M1177.00 870.56L1182.00 875.25M1177.00 870.56L1182.00 865.87M1177.00 879.94L1182.00 884.63M1177.00 879.94L1182.00 875.25" stroke="#000" stroke-width="1.8" fill="none" clip-path="url(#wi)"/>
<path d="M552.75 -10.97L556.95 -6.28M552.75 -8.15L556.95 -12.84M552.75 -1.59L556.95 3.10M552.75 1.23L556.95 -3.46M552.75 7.79L556.95 12.48M552.75 10.61L556.95 5.92M552.75 17.17L556.95 21.86M552.75 19.99L556.95 15.30M552.75 26.55L556.95 31.24M552.75 29.37L556.95 24.68M552.75 35.93L556.95 40.62M552.75 38.75L556.95 34.06M552.75 45.31L556.95 50.00M552.75 48.13L556.95 43.44M552.75 54.69L556.95 59.38M552.75 57.51L556.95 52.82M552.75 64.07L556.95 68.76M552.75 66.89L556.95 62.20M552.75 73.45L556.95 78.14M552.75 76.27L556.95 71.58M552.75 82.83L556.95 87.52M552.75 85.65L556.95 80.96M552.75 92.21L556.95 96.90M552.75 95.03L556.95 90.34M552.75 101.59L556.95 106.28M552.75 104.41L556.95 99.72M552.75 110.97L556.95 115.66M552.75 113.79L556.95 109.10M552.75 120.35L556.95 125.04M552.75 123.17L556.95 118.48M552.75 129.73L556.95 134.42M552.75 132.55L556.95 127.86M552.75 139.11L556.95 143.80M552.75 141.93L556.95 137.24M552.75 148.49L556.95 153.18M552.75 151.31L556.95 146.62M552.75 157.87L556.95 162.56M552.75 160.69L556.95 156.00M552.75 167.25L556.95 171.94M552.75 170.07L556.95 165.38M552.75 176.63L556.95 181.32M552.75 179.45L556.95 174.76M552.75 186.01L556.95 190.70M552.75 188.83L556.95 184.14M552.75 195.39L556.95 200.08M552.75 198.21L556.95 193.52M552.75 204.77L556.95 209.46M552.75 207.59L556.95 202.90M552.75 214.15L556.95 218.84M552.75 216.97L556.95 212.28M552.75 223.53L556.95 228.22M552.75 226.35L556.95 221.66M552.75 232.91L556.95 237.60M552.75 235.73L556.95 231.04M552.75 242.29L556.95 246.98M552.75 245.11L556.95 240.42M552.75 251.67L556.95 256.36M552.75 254.49L556.95 249.80M552.75 261.05L556.95 265.74M552.75 263.87L556.95 259.18M552.75 270.43L556.95 275.12M552.75 273.25L556.95 268.56M552.75 279.81L556.95 284.50M552.75 282.63L556.95 277.94M552.75 289.19L556.95 293.88M552.75 292.01L556.95 287.32M552.75 298.57L556.95 303.26M552.75 301.39L556.95 296.70M552.75 307.95L556.95 312.64M552.75 310.77L556.95 306.08M552.75 317.33L556.95 322.02M552.75 320.15L556.95 315.46M552.75 326.71L556.95 331.40M552.75 329.53L556.95 324.84M552.75 336.09L556.95 340.78M552.75 338.91L556.95 334.22M552.75 345.47L556.95 350.16M552.75 348.29L556.95 343.60M552.75 354.85L556.95 359.54M552.75 357.67L556.95 352.98M552.75 364.23L556.95 368.92M552.75 367.05L556.95 362.36M552.75 373.61L556.95 378.30M552.75 376.43L556.95 371.74M552.75 382.99L556.95 387.68M552.75 385.81L556.95 381.12M552.75 392.37L556.95 397.06M552.75 395.19L556.95 390.50M384.50 278.55L389.19 282.85M389.19 278.55L384.50 282.85M393.88 278.55L398.57 282.85M398.57 278.55L393.88 282.85M403.25 278.55L407.95 282.85M407.95 278.55L403.25 282.85M412.63 278.55L417.33 282.85M417.33 278.55L412.63 282.85M422.01 278.55L426.71 282.85M426.71 278.55L422.01 282.85M431.39 278.55L436.09 282.85M436.09 278.55L431.39 282.85M459.54 278.55L464.23 282.85M464.23 278.55L459.54 282.85M468.92 278.55L473.61 282.85M473.61 278.55L468.92 282.85M478.30 278.55L482.99 282.85M482.99 278.55L478.30 282.85M487.68 278.55L492.37 282.85M492.37 278.55L487.68 282.85M497.06 278.55L501.75 282.85M501.75 278.55L497.06 282.85M506.44 278.55L511.13 282.85M511.13 278.55L506.44 282.85M515.82 278.55L520.51 282.85M520.51 278.55L515.82 282.85M525.20 278.55L529.89 282.85M529.89 278.55L525.20 282.85M534.58 278.55L539.27 282.85M539.27 278.55L534.58 282.85M543.96 278.55L548.65 282.85M548.65 278.55L543.96 282.85M553.34 278.55L558.03 282.85M558.03 278.55L553.34 282.85M562.72 278.55L567.41 282.85M567.41 278.55L562.72 282.85M572.10 278.55L576.79 282.85M576.79 278.55L572.10 282.85M581.48 278.55L586.17 282.85M586.17 278.55L581.48 282.85M590.86 278.55L595.55 282.85M595.55 278.55L590.86 282.85M600.24 278.55L604.93 282.85M604.93 278.55L600.24 282.85M609.62 278.55L614.31 282.85M614.31 278.55L609.62 282.85M619.00 278.55L623.69 282.85M623.69 278.55L619.00 282.85M628.38 278.55L633.07 282.85M633.07 278.55L628.38 282.85M637.75 278.55L642.45 282.85M642.45 278.55L637.75 282.85M485.45 260.30L488.85 264.99M485.45 264.99L488.85 260.30M485.45 269.68L488.85 274.37M485.45 274.37L488.85 269.68M485.45 279.06L488.85 283.75M485.45 283.75L488.85 279.06M485.45 288.44L488.85 293.13M485.45 293.13L488.85 288.44M620.95 260.30L624.65 264.99M620.95 264.99L624.65 260.30M620.95 269.68L624.65 274.37M620.95 274.37L624.65 269.68M620.95 279.06L624.65 283.75M620.95 283.75L624.65 279.06M620.95 288.44L624.65 293.13M620.95 293.13L624.65 288.44M665.89 278.55L670.59 282.85M670.59 278.55L665.89 282.85M675.27 278.55L679.97 282.85M679.97 278.55L675.27 282.85M684.65 278.55L689.35 282.85M689.35 278.55L684.65 282.85M694.03 278.55L698.73 282.85M698.73 278.55L694.03 282.85M703.41 278.55L708.11 282.85M708.11 278.55L703.41 282.85M712.79 278.55L717.49 282.85M717.49 278.55L712.79 282.85M722.17 278.55L726.87 282.85M726.87 278.55L722.17 282.85M731.55 278.55L736.25 282.85M736.25 278.55L731.55 282.85M740.93 278.55L745.62 282.85M745.62 278.55L740.93 282.85M750.31 278.55L755.00 282.85M755.00 278.55L750.31 282.85M759.69 278.55L764.38 282.85M764.38 278.55L759.69 282.85M769.07 278.55L773.76 282.85M773.76 278.55L769.07 282.85M778.45 278.55L783.14 282.85M783.14 278.55L778.45 282.85M787.83 278.55L792.52 282.85M792.52 278.55L787.83 282.85M806.60 278.55L811.29 282.85M811.29 278.55L806.60 282.85M815.98 278.55L820.67 282.85M820.67 278.55L815.98 282.85M825.36 278.55L830.05 282.85M830.05 278.55L825.36 282.85M834.74 278.55L839.43 282.85M839.43 278.55L834.74 282.85M844.12 278.55L848.81 282.85M848.81 278.55L844.12 282.85M853.50 278.55L858.19 282.85M858.19 278.55L853.50 282.85M862.88 278.55L867.57 282.85M867.57 278.55L862.88 282.85M872.25 278.55L876.95 282.85M876.95 278.55L872.25 282.85M881.63 278.55L886.33 282.85M886.33 278.55L881.63 282.85M534.55 382.95L538.35 387.64M534.55 385.77L538.35 381.08M534.55 392.33L538.35 397.02M534.55 395.15L538.35 390.46M534.55 401.71L538.35 406.40M534.55 404.53L538.35 399.84M534.55 411.09L538.35 415.78M534.55 413.91L538.35 409.22M534.55 420.47L538.35 425.16M534.55 423.29L538.35 418.60M534.55 429.85L538.35 434.54M534.55 432.67L538.35 427.98M534.55 439.23L538.35 443.92M534.55 442.05L538.35 437.36M534.55 448.61L538.35 453.30M534.55 451.43L538.35 446.74M534.55 457.99L538.35 462.68M534.55 460.81L538.35 456.12M534.55 467.37L538.35 472.06M534.55 470.19L538.35 465.50M534.55 476.75L538.35 481.44M534.55 479.57L538.35 474.88M534.55 486.13L538.35 490.82M534.55 488.95L538.35 484.26M534.55 495.51L538.35 500.20M534.55 498.33L538.35 493.64M534.55 504.89L538.35 509.58M534.55 507.71L538.35 503.02M534.55 514.27L538.35 518.96M534.55 517.09L538.35 512.40M534.55 523.65L538.35 528.34M534.55 526.47L538.35 521.78M534.55 533.03L538.35 537.72M534.55 535.85L538.35 531.16M534.55 542.41L538.35 547.10M534.55 545.23L538.35 540.54M602.45 476.04L606.35 480.73M602.45 480.73L606.35 476.04M602.45 485.42L606.35 490.11M602.45 490.11L606.35 485.42M602.45 494.80L606.35 499.49M602.45 499.49L606.35 494.80M602.45 504.18L606.35 508.87M602.45 508.87L606.35 504.18M824.85 380.95L828.55 385.64M824.85 387.99L828.55 383.30M824.85 390.33L828.55 395.02M824.85 397.37L828.55 392.68M824.85 399.71L828.55 404.40M824.85 406.75L828.55 402.06M824.85 409.09L828.55 413.78M824.85 416.13L828.55 411.44M824.85 418.47L828.55 423.16M824.85 425.51L828.55 420.82M824.85 427.85L828.55 432.54M824.85 434.89L828.55 430.20M824.85 437.23L828.55 441.92M824.85 444.27L828.55 439.58M824.85 446.61L828.55 451.30M824.85 453.65L828.55 448.96M824.85 455.99L828.55 460.68M824.85 463.03L828.55 458.34M824.85 465.37L828.55 470.06M824.85 472.41L828.55 467.72M824.85 474.75L828.55 479.44M824.85 481.79L828.55 477.10M824.85 484.13L828.55 488.82M824.85 491.17L828.55 486.48M824.85 493.51L828.55 498.20M824.85 500.55L828.55 495.86M824.85 502.89L828.55 507.58M824.85 509.93L828.55 505.24M824.85 512.27L828.55 516.96M824.85 519.31L828.55 514.62M824.85 521.65L828.55 526.34M824.85 528.69L828.55 524.00M824.85 531.03L828.55 535.72M824.85 538.07L828.55 533.38M824.85 540.41L828.55 545.10M824.85 547.45L828.55 542.76M824.85 549.79L828.55 554.48M824.85 556.83L828.55 552.14M824.85 559.17L828.55 563.86M824.85 566.21L828.55 561.52M824.85 568.55L828.55 573.24M824.85 575.59L828.55 570.90M824.85 577.93L828.55 582.62M824.85 584.97L828.55 580.28M824.85 587.31L828.55 592.00M824.85 594.35L828.55 589.66M824.85 596.69L828.55 601.38M824.85 603.73L828.55 599.04M824.85 606.07L828.55 610.76M824.85 613.11L828.55 608.42M824.85 615.45L828.55 620.14M824.85 622.49L828.55 617.80M824.85 624.83L828.55 629.52M824.85 631.87L828.55 627.18M824.85 634.21L828.55 638.90M824.85 641.25L828.55 636.56M824.85 643.59L828.55 648.28M824.85 650.63L828.55 645.94M824.85 652.97L828.55 657.66M824.85 660.01L828.55 655.32M824.85 662.35L828.55 667.04M824.85 669.39L828.55 664.70M824.85 671.73L828.55 676.42M824.85 678.77L828.55 674.08M824.85 681.11L828.55 685.80M824.85 688.15L828.55 683.46M824.85 690.49L828.55 695.18M824.85 697.53L828.55 692.84M824.85 699.87L828.55 704.56M824.85 706.91L828.55 702.22M824.85 709.25L828.55 713.94M824.85 716.29L828.55 711.60M824.85 718.63L828.55 723.32M824.85 725.67L828.55 720.98M824.85 728.01L828.55 732.70M824.85 735.05L828.55 730.36M824.85 737.39L828.55 742.08M824.85 744.43L828.55 739.74M824.85 746.77L828.55 751.46M824.85 753.81L828.55 749.12M824.85 756.15L828.55 760.84M824.85 763.19L828.55 758.50M824.85 765.53L828.55 770.22M824.85 772.57L828.55 767.88M824.85 774.91L828.55 779.60M824.85 781.95L828.55 777.26M824.85 784.29L828.55 788.98M824.85 791.33L828.55 786.64M824.85 793.67L828.55 798.36M824.85 800.71L828.55 796.02M824.85 803.05L828.55 807.74M824.85 810.09L828.55 805.40M824.85 812.43L828.55 817.12M824.85 819.47L828.55 814.78M824.85 821.81L828.55 826.50M824.85 828.85L828.55 824.16M824.85 831.19L828.55 835.88M824.85 838.23L828.55 833.54M824.85 840.57L828.55 845.26M824.85 847.61L828.55 842.92M824.85 849.95L828.55 854.64M824.85 856.99L828.55 852.30M824.85 859.33L828.55 864.02M824.85 866.37L828.55 861.68M824.85 868.71L828.55 873.40M824.85 875.75L828.55 871.06M892.65 476.04L896.45 480.73M892.65 480.73L896.45 476.04M892.65 485.42L896.45 490.11M892.65 490.11L896.45 485.42M892.65 494.80L896.45 499.49M892.65 499.49L896.45 494.80M892.65 504.18L896.45 508.87M892.65 508.87L896.45 504.18" stroke="#000" stroke-width="1.55" fill="none" clip-path="url(#wi)"/>
<path d="M227.0 402V454.1M235.0 402V454.1" stroke="#000" stroke-width="1.6" fill="none"/>
<path d="M231.1 402.2V454.1" stroke="#000" stroke-width="1.1"/>
<rect x="227.2" y="454.1" width="7.6" height="8.3" fill="#fff" stroke="#000" stroke-width="1.8"/>
<path d="M228 455L234 461.6M234 455L228 461.6" stroke="#000" stroke-width="1.0"/>
<path d="M235 467.5V514.5" stroke="#666" stroke-width="1.3"/>
<path d="M235.20 867.5H300.80V875.3H235.20Z" fill="#fff" stroke="#000" stroke-width="1.6"/>
<path d="M235.20 871.4H300.80" stroke="#000" stroke-width="1.4"/>
<path d="M357.50 867.5H676.50V875.3H357.50Z" fill="#fff" stroke="#000" stroke-width="1.6"/>
<path d="M357.50 871.4H676.50" stroke="#000" stroke-width="1.4"/>
<path d="M733.30 867.5H1052.80V875.3H733.30Z" fill="#fff" stroke="#000" stroke-width="1.6"/>
<path d="M733.30 871.4H1052.80" stroke="#000" stroke-width="1.4"/>
<path d="M1109.60 867.5H1175.20V875.3H1109.60Z" fill="#fff" stroke="#000" stroke-width="1.6"/>
<path d="M1109.60 871.4H1175.20" stroke="#000" stroke-width="1.4"/>
<path d="M235.20 876V902M423.10 876V902M611.10 876V902M799.00 876V902M987.00 876V902M1175.40 876V902" stroke="#444" stroke-width="1.2"/>
<rect x="236.10" y="81.20" width="4.40" height="5.40" fill="#fff" stroke="#000" stroke-width="1.15"/>
<rect x="1170.30" y="81.20" width="4.30" height="5.20" fill="#fff" stroke="#000" stroke-width="1.15"/>
<rect x="236.10" y="237.92" width="4.40" height="5.40" fill="#fff" stroke="#000" stroke-width="1.15"/>
<rect x="1170.30" y="237.92" width="4.30" height="5.20" fill="#fff" stroke="#000" stroke-width="1.15"/>
<rect x="236.10" y="551.36" width="4.40" height="5.40" fill="#fff" stroke="#000" stroke-width="1.15"/>
<rect x="1170.30" y="551.36" width="4.30" height="5.20" fill="#fff" stroke="#000" stroke-width="1.15"/>
<rect x="236.10" y="708.08" width="4.40" height="5.40" fill="#fff" stroke="#000" stroke-width="1.15"/>
<rect x="1170.30" y="708.08" width="4.30" height="5.20" fill="#fff" stroke="#000" stroke-width="1.15"/>
<rect x="235.90" y="394.10" width="7.40" height="7.40" fill="#fff" stroke="#000" stroke-width="1.15"/>
<rect x="418.90" y="394.10" width="8.50" height="7.40" fill="#fff" stroke="#000" stroke-width="1.15"/>
<rect x="608.00" y="394.10" width="7.80" height="7.40" fill="#fff" stroke="#000" stroke-width="1.15"/>
<rect x="795.10" y="394.10" width="8.10" height="7.40" fill="#fff" stroke="#000" stroke-width="1.15"/>
<rect x="984.30" y="394.10" width="7.30" height="7.40" fill="#fff" stroke="#000" stroke-width="1.15"/>
<rect x="1167.00" y="394.10" width="7.60" height="7.40" fill="#fff" stroke="#000" stroke-width="1.15"/>
<rect x="236.00" y="862.20" width="4.40" height="5.10" fill="#fff" stroke="#000" stroke-width="1.15"/>
<rect x="420.00" y="862.20" width="6.50" height="5.10" fill="#fff" stroke="#000" stroke-width="1.15"/>
<rect x="607.80" y="862.20" width="6.50" height="5.10" fill="#fff" stroke="#000" stroke-width="1.15"/>
<rect x="795.80" y="862.20" width="6.50" height="5.10" fill="#fff" stroke="#000" stroke-width="1.15"/>
<rect x="983.80" y="862.20" width="6.50" height="5.10" fill="#fff" stroke="#000" stroke-width="1.15"/>
<rect x="1170.40" y="862.20" width="4.30" height="5.10" fill="#fff" stroke="#000" stroke-width="1.15"/>
<path d="M432.50 277.50L468.70 257.00M484.20 332.50L463.30 296.30M625.80 332.50L646.70 296.70M677.50 277.50L640.80 257.00M823.30 277.80L787.50 256.70M607.50 448.30L628.30 484.70M658.80 503.30L622.50 523.70M774.20 503.30L737.50 523.70M897.50 448.30L918.30 484.70M948.80 503.30L912.50 523.70M226.80 514.40L205.60 477.80M357.50 875.30L312.30 890.60M733.30 875.30L688.30 890.70M1109.60 875.30L1064.30 890.40" stroke="#000" stroke-width="1.6" fill="none"/>
<circle cx="419.25" cy="147.90" r="20.5" fill="#fff" stroke="#111" stroke-width="1.6"/>
<g transform="translate(418.40 154.60)"><text x="-5.45" y="0" transform="scale(1.0000 1.0000)" font-family='"Liberation Sans", sans-serif' font-size="19.60" fill="#111" stroke="#111" stroke-width="0.30">5</text></g>
<circle cx="693.40" cy="147.60" r="20.5" fill="#fff" stroke="#111" stroke-width="1.6"/>
<g transform="translate(695.90 154.60)"><path transform="translate(-5.45 0) scale(0.00957 -0.00957)" d="M763 1466H643Q590 1340 430 1220Q330 1150 223 1110V940Q360 990 583 1130V0H763Z" fill="#111" stroke="#111" stroke-width="0.30" vector-effect="non-scaling-stroke"/></g>
<circle cx="436.50" cy="322.20" r="20.5" fill="#fff" stroke="#111" stroke-width="1.6"/>
<g transform="translate(436.55 329.20)"><text x="-5.45" y="0" transform="scale(1.0000 1.0000)" font-family='"Liberation Sans", sans-serif' font-size="19.60" fill="#111" stroke="#111" stroke-width="0.30">6</text></g>
<circle cx="520.85" cy="326.25" r="20.5" fill="#fff" stroke="#111" stroke-width="1.6"/>
<g transform="translate(520.00 333.25)"><text x="-5.45" y="0" transform="scale(1.0000 1.0000)" font-family='"Liberation Sans", sans-serif' font-size="19.60" fill="#111" stroke="#111" stroke-width="0.30">7</text></g>
<circle cx="591.00" cy="327.75" r="20.5" fill="#fff" stroke="#111" stroke-width="1.6"/>
<g transform="translate(590.05 334.50)"><text x="-5.45" y="0" transform="scale(1.0000 1.0000)" font-family='"Liberation Sans", sans-serif' font-size="19.60" fill="#111" stroke="#111" stroke-width="0.30">4</text></g>
<circle cx="683.70" cy="330.10" r="20.5" fill="#fff" stroke="#111" stroke-width="1.6"/>
<g transform="translate(683.45 337.10)"><text x="-5.45" y="0" transform="scale(1.0000 1.0000)" font-family='"Liberation Sans", sans-serif' font-size="19.60" fill="#111" stroke="#111" stroke-width="0.30">3</text></g>
<circle cx="808.00" cy="327.75" r="20.5" fill="#fff" stroke="#111" stroke-width="1.6"/>
<g transform="translate(807.40 334.90)"><text x="-5.45" y="0" transform="scale(1.0000 1.0000)" font-family='"Liberation Sans", sans-serif' font-size="19.60" fill="#111" stroke="#111" stroke-width="0.30">2</text></g>
<circle cx="419.25" cy="450.50" r="20.5" fill="#fff" stroke="#111" stroke-width="1.6"/>
<g transform="translate(418.50 457.50)"><text x="-5.45" y="0" transform="scale(1.0000 1.0000)" font-family='"Liberation Sans", sans-serif' font-size="19.60" fill="#111" stroke="#111" stroke-width="0.30">8</text></g>
<circle cx="570.30" cy="450.70" r="20.5" fill="#fff" stroke="#111" stroke-width="1.6"/>
<g transform="translate(572.50 457.20)"><path transform="translate(-10.90 0) scale(0.00957 -0.00957)" d="M763 1466H643Q590 1340 430 1220Q330 1150 223 1110V940Q360 990 583 1130V0H763Z" fill="#111" stroke="#111" stroke-width="0.30" vector-effect="non-scaling-stroke"/><path transform="translate(0.00 0) scale(0.00957 -0.00957)" d="M763 1466H643Q590 1340 430 1220Q330 1150 223 1110V940Q360 990 583 1130V0H763Z" fill="#111" stroke="#111" stroke-width="0.30" vector-effect="non-scaling-stroke"/></g>
<circle cx="654.15" cy="450.50" r="20.5" fill="#fff" stroke="#111" stroke-width="1.6"/>
<g transform="translate(653.65 457.60)"><text x="0.00" y="0" transform="scale(1.0000 1.0000)" font-family='"Liberation Sans", sans-serif' font-size="19.60" fill="#111" stroke="#111" stroke-width="0.30">0</text><path transform="translate(-10.90 0) scale(0.00957 -0.00957)" d="M763 1466H643Q590 1340 430 1220Q330 1150 223 1110V940Q360 990 583 1130V0H763Z" fill="#111" stroke="#111" stroke-width="0.30" vector-effect="non-scaling-stroke"/></g>
<circle cx="771.50" cy="450.50" r="20.5" fill="#fff" stroke="#111" stroke-width="1.6"/>
<g transform="translate(770.90 457.40)"><text x="0.00" y="0" transform="scale(1.0000 1.0000)" font-family='"Liberation Sans", sans-serif' font-size="19.60" fill="#111" stroke="#111" stroke-width="0.30">2</text><path transform="translate(-10.90 0) scale(0.00957 -0.00957)" d="M763 1466H643Q590 1340 430 1220Q330 1150 223 1110V940Q360 990 583 1130V0H763Z" fill="#111" stroke="#111" stroke-width="0.30" vector-effect="non-scaling-stroke"/></g>
<circle cx="862.65" cy="450.50" r="20.5" fill="#fff" stroke="#111" stroke-width="1.6"/>
<g transform="translate(861.85 457.40)"><text x="0.00" y="0" transform="scale(1.0000 1.0000)" font-family='"Liberation Sans", sans-serif' font-size="19.60" fill="#111" stroke="#111" stroke-width="0.30">5</text><path transform="translate(-10.90 0) scale(0.00957 -0.00957)" d="M763 1466H643Q590 1340 430 1220Q330 1150 223 1110V940Q360 990 583 1130V0H763Z" fill="#111" stroke="#111" stroke-width="0.30" vector-effect="non-scaling-stroke"/></g>
<circle cx="938.85" cy="450.50" r="20.5" fill="#fff" stroke="#111" stroke-width="1.6"/>
<g transform="translate(937.90 457.40)"><text x="0.00" y="0" transform="scale(1.0000 1.0000)" font-family='"Liberation Sans", sans-serif' font-size="19.60" fill="#111" stroke="#111" stroke-width="0.30">4</text><path transform="translate(-10.90 0) scale(0.00957 -0.00957)" d="M763 1466H643Q590 1340 430 1220Q330 1150 223 1110V940Q360 990 583 1130V0H763Z" fill="#111" stroke="#111" stroke-width="0.30" vector-effect="non-scaling-stroke"/></g>
<circle cx="693.40" cy="637.40" r="20.5" fill="#fff" stroke="#111" stroke-width="1.6"/>
<g transform="translate(692.75 644.10)"><text x="-5.45" y="0" transform="scale(1.0000 1.0000)" font-family='"Liberation Sans", sans-serif' font-size="19.60" fill="#111" stroke="#111" stroke-width="0.30">9</text></g>
<circle cx="937.40" cy="637.40" r="20.5" fill="#fff" stroke="#111" stroke-width="1.6"/>
<g transform="translate(936.90 644.25)"><text x="0.00" y="0" transform="scale(1.0000 1.0000)" font-family='"Liberation Sans", sans-serif' font-size="19.60" fill="#111" stroke="#111" stroke-width="0.30">3</text><path transform="translate(-10.90 0) scale(0.00957 -0.00957)" d="M763 1466H643Q590 1340 430 1220Q330 1150 223 1110V940Q360 990 583 1130V0H763Z" fill="#111" stroke="#111" stroke-width="0.30" vector-effect="non-scaling-stroke"/></g>
<rect x="390.95" y="207.95" width="57.00" height="28.90" fill="#fff" stroke="#c4c4c4" stroke-width="1.1"/>
<g transform="translate(419.10 228.60)"><text x="-25.02" y="0" transform="scale(0.9800 1.0200)" font-family='"Liberation Sans", sans-serif' font-size="20.00" fill="#111" stroke="#111" stroke-width="0.29">0</text><text x="-13.90" y="0" transform="scale(0.9800 1.0200)" font-family='"Liberation Sans", sans-serif' font-size="20.00" fill="#111" stroke="#111" stroke-width="0.29">.</text><text x="-8.34" y="0" transform="scale(0.9800 1.0200)" font-family='"Liberation Sans", sans-serif' font-size="20.00" fill="#111" stroke="#111" stroke-width="0.29">0</text><text x="2.78" y="0" transform="scale(0.9800 1.0200)" font-family='"Liberation Sans", sans-serif' font-size="20.00" fill="#111" stroke="#111" stroke-width="0.29">0</text><text x="13.90" y="0" transform="scale(0.9800 1.0200)" font-family='"Liberation Sans", sans-serif' font-size="20.00" fill="#111" stroke="#111" stroke-width="0.29">0</text></g>
<rect x="664.95" y="207.95" width="56.90" height="28.90" fill="#fff" stroke="#c4c4c4" stroke-width="1.1"/>
<g transform="translate(693.40 228.60)"><text x="-25.02" y="0" transform="scale(0.9800 1.0200)" font-family='"Liberation Sans", sans-serif' font-size="20.00" fill="#111" stroke="#111" stroke-width="0.29">0</text><text x="-13.90" y="0" transform="scale(0.9800 1.0200)" font-family='"Liberation Sans", sans-serif' font-size="20.00" fill="#111" stroke="#111" stroke-width="0.29">.</text><text x="-8.34" y="0" transform="scale(0.9800 1.0200)" font-family='"Liberation Sans", sans-serif' font-size="20.00" fill="#111" stroke="#111" stroke-width="0.29">0</text><text x="2.78" y="0" transform="scale(0.9800 1.0200)" font-family='"Liberation Sans", sans-serif' font-size="20.00" fill="#111" stroke="#111" stroke-width="0.29">0</text><text x="13.90" y="0" transform="scale(0.9800 1.0200)" font-family='"Liberation Sans", sans-serif' font-size="20.00" fill="#111" stroke="#111" stroke-width="0.29">0</text></g>
<rect x="390.95" y="481.95" width="56.90" height="28.90" fill="#fff" stroke="#c4c4c4" stroke-width="1.1"/>
<g transform="translate(419.10 502.60)"><text x="-25.02" y="0" transform="scale(0.9800 1.0200)" font-family='"Liberation Sans", sans-serif' font-size="20.00" fill="#111" stroke="#111" stroke-width="0.29">0</text><text x="-13.90" y="0" transform="scale(0.9800 1.0200)" font-family='"Liberation Sans", sans-serif' font-size="20.00" fill="#111" stroke="#111" stroke-width="0.29">.</text><text x="-8.34" y="0" transform="scale(0.9800 1.0200)" font-family='"Liberation Sans", sans-serif' font-size="20.00" fill="#111" stroke="#111" stroke-width="0.29">0</text><text x="2.78" y="0" transform="scale(0.9800 1.0200)" font-family='"Liberation Sans", sans-serif' font-size="20.00" fill="#111" stroke="#111" stroke-width="0.29">0</text><text x="13.90" y="0" transform="scale(0.9800 1.0200)" font-family='"Liberation Sans", sans-serif' font-size="20.00" fill="#111" stroke="#111" stroke-width="0.29">0</text></g>
<rect x="664.95" y="697.85" width="56.90" height="28.15" fill="#fff" stroke="#c4c4c4" stroke-width="1.1"/>
<g transform="translate(693.40 718.30)"><text x="-25.02" y="0" transform="scale(0.9800 1.0200)" font-family='"Liberation Sans", sans-serif' font-size="20.00" fill="#111" stroke="#111" stroke-width="0.29">0</text><text x="-13.90" y="0" transform="scale(0.9800 1.0200)" font-family='"Liberation Sans", sans-serif' font-size="20.00" fill="#111" stroke="#111" stroke-width="0.29">.</text><text x="-8.34" y="0" transform="scale(0.9800 1.0200)" font-family='"Liberation Sans", sans-serif' font-size="20.00" fill="#111" stroke="#111" stroke-width="0.29">0</text><text x="2.78" y="0" transform="scale(0.9800 1.0200)" font-family='"Liberation Sans", sans-serif' font-size="20.00" fill="#111" stroke="#111" stroke-width="0.29">0</text><text x="13.90" y="0" transform="scale(0.9800 1.0200)" font-family='"Liberation Sans", sans-serif' font-size="20.00" fill="#111" stroke="#111" stroke-width="0.29">0</text></g>
<rect x="908.95" y="697.85" width="56.65" height="28.15" fill="#fff" stroke="#c4c4c4" stroke-width="1.1"/>
<g transform="translate(937.25 718.30)"><text x="-25.02" y="0" transform="scale(0.9800 1.0200)" font-family='"Liberation Sans", sans-serif' font-size="20.00" fill="#111" stroke="#111" stroke-width="0.29">0</text><text x="-13.90" y="0" transform="scale(0.9800 1.0200)" font-family='"Liberation Sans", sans-serif' font-size="20.00" fill="#111" stroke="#111" stroke-width="0.29">.</text><text x="-8.34" y="0" transform="scale(0.9800 1.0200)" font-family='"Liberation Sans", sans-serif' font-size="20.00" fill="#111" stroke="#111" stroke-width="0.29">0</text><text x="2.78" y="0" transform="scale(0.9800 1.0200)" font-family='"Liberation Sans", sans-serif' font-size="20.00" fill="#111" stroke="#111" stroke-width="0.29">0</text><text x="13.90" y="0" transform="scale(0.9800 1.0200)" font-family='"Liberation Sans", sans-serif' font-size="20.00" fill="#111" stroke="#111" stroke-width="0.29">0</text></g>
</svg></body></html>
